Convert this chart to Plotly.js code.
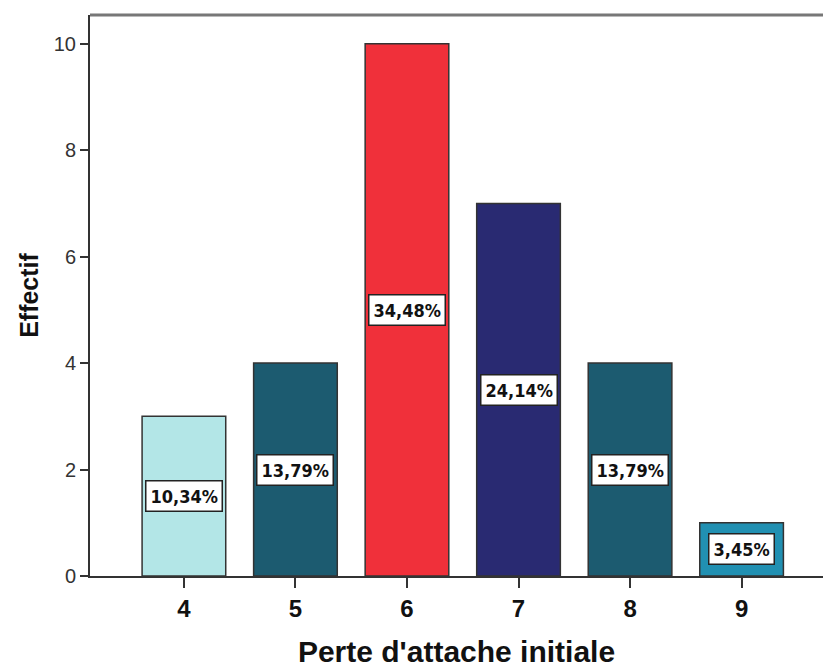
<!DOCTYPE html>
<html>
<head>
<meta charset="utf-8">
<script src="https://cdn.plot.ly/plotly-3.0.1.min.js"></script>
<style>html,body{margin:0;padding:0;background:#fff;}#chart{width:823px;height:668px;}</style>
</head>
<body>
<div id="chart"></div>
<script>
const categories = [4, 5, 6, 7, 8, 9];
const counts = [3, 4, 10, 7, 4, 1];
const percentLabels = ["10,34%", "13,79%", "34,48%", "24,14%", "13,79%", "3,45%"];
const barColors = ["#b3e6e7", "#1c5b70", "#f0303a", "#292a72", "#1c5b70", "#2190b2"];
const yTicks = [0, 2, 4, 6, 8, 10];

const labelFont = {family: "DejaVu Sans Condensed, Liberation Sans Narrow, Arial Narrow, sans-serif", size: 18, color: "#111"};

const annotations = categories.map((c, i) => ({
  x: c, y: counts[i] / 2, xref: "x", yref: "y",
  text: "<b>" + percentLabels[i] + "</b>",
  showarrow: false,
  bgcolor: "#ffffff",
  bordercolor: "#222",
  borderwidth: 1.5,
  borderpad: 4,
  font: labelFont
}));

const trace = {
  type: "bar",
  x: categories,
  y: counts,
  width: 0.75,
  marker: {color: barColors, line: {color: "#333", width: 1.5}},
  hoverinfo: "none"
};

const layout = {
  width: 823, height: 668,
  margin: {l: 90, r: 0, t: 15, b: 92},
  paper_bgcolor: "#fff", plot_bgcolor: "#fff",
  showlegend: false,
  xaxis: {
    range: [3.158, 9.73],
    tickvals: categories,
    ticktext: categories.map(c => "<b>" + c + "</b>"),
    ticks: "outside", ticklen: 10, tickwidth: 2, tickcolor: "#333",
    showline: true, linecolor: "#333", linewidth: 2,
    showgrid: false, zeroline: false,
    tickfont: {family: "Liberation Sans, Arial, sans-serif", size: 24, color: "#111"},
    title: {text: "<b>Perte d'attache initiale</b>", font: {family: "Liberation Sans, Arial, sans-serif", size: 30, color: "#111"}, standoff: 24}
  },
  yaxis: {
    range: [0, 10.54],
    tickvals: yTicks,
    ticks: "outside", ticklen: 8, tickwidth: 2, tickcolor: "#333",
    showline: true, linecolor: "#333", linewidth: 2,
    showgrid: false, zeroline: false,
    tickfont: {family: "Liberation Sans, Arial, sans-serif", size: 20, color: "#333"},
    title: {text: "<b>Effectif</b>", font: {family: "Liberation Sans, Arial, sans-serif", size: 25, color: "#111"}, standoff: 8}
  },
  shapes: [{type: "line", xref: "paper", yref: "paper", x0: 0, x1: 1, y0: 1, y1: 1, line: {color: "#777", width: 3}}],
  annotations: annotations
};

Plotly.newPlot("chart", [trace], layout, {staticPlot: true, displayModeBar: false});
</script>
</body>
</html>
